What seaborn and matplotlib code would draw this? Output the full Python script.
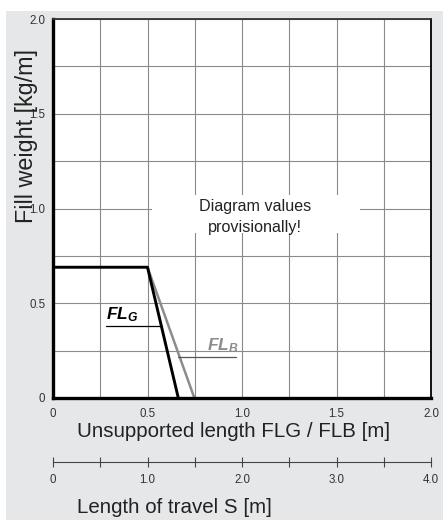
import pandas as pd
import numpy as np
import matplotlib
matplotlib.use("Agg")
import matplotlib.pyplot as plt
import seaborn as sns
from matplotlib.patches import Rectangle

# curve data
flg_x = [0.0, 0.5, 0.663]
flg_y = [0.69, 0.69, 0.0]
flb_x = [0.5, 0.748]
flb_y = [0.69, 0.0]

x_ticks = [0, 0.5, 1.0, 1.5, 2.0]
x_tick_labels = ["0", "0.5", "1.0", "1.5", "2.0"]
y_ticks = [0, 0.5, 1.0, 1.5, 2.0]
y_tick_labels = ["0", "0.5", "1.0", "1.5", "2.0"]
s_ticks = [0, 1.0, 2.0, 3.0, 4.0]
s_tick_labels = ["0", "1.0", "2.0", "3.0", "4.0"]

sns.set_style("white")
plt.rcParams['font.family'] = ['Liberation Sans', 'DejaVu Sans']
plt.rcParams['mathtext.fontset'] = 'custom'
plt.rcParams['mathtext.it'] = 'Liberation Sans:italic:bold'
plt.rcParams['mathtext.rm'] = 'Liberation Sans:italic:bold'

fig = plt.figure(figsize=(4.43, 5.2), dpi=100, facecolor='white')
fig.patches.append(Rectangle((6 / 443, 0), 1, (520 - 11) / 520, transform=fig.transFigure,
                             facecolor='#e6e7e8', edgecolor='none', zorder=-10))
ax = fig.add_axes([53 / 443, 1 - 398 / 520, 378 / 443, 379 / 520])
ax.set_facecolor('white')

df_g = pd.DataFrame({'x': flg_x, 'y': flg_y})
df_b = pd.DataFrame({'x': flb_x, 'y': flb_y})
sns.lineplot(data=df_b, x='x', y='y', sort=False, estimator=None, color='#8c8c8c', lw=1.8, ax=ax, zorder=3)
sns.lineplot(data=df_g, x='x', y='y', sort=False, estimator=None, color='black', lw=2.1, ax=ax, zorder=4)

ax.set_xlim(0, 2)
ax.set_ylim(0, 2)

ax.set_xticks(x_ticks)
ax.set_xticklabels(x_tick_labels)
ax.set_xticks(np.arange(0, 2.01, 0.25), minor=True)
ax.set_yticks(y_ticks)
ax.set_yticklabels(y_tick_labels)
ax.set_yticks(np.arange(0, 2.01, 0.25), minor=True)
ax.grid(True, which='both', color='#8a8a8a', lw=0.8)
ax.set_axisbelow(True)
ax.tick_params(axis='x', which='both', direction='out', length=3, width=0.8, color='#555555',
               labelsize=8.3, labelcolor='#333333', pad=4)
ax.tick_params(axis='y', which='major', direction='out', length=4.5, width=0.8, color='#888888',
               labelsize=8.3, labelcolor='#333333', pad=1)
ax.tick_params(axis='y', which='minor', length=0)

for side in ['left', 'bottom']:
    ax.spines[side].set_color('black')
    ax.spines[side].set_linewidth(2.4)
ax.spines['right'].set_color('black')
ax.spines['right'].set_linewidth(1.3)
ax.spines['top'].set_color('#333333')
ax.spines['top'].set_linewidth(1.3)
for sp in ax.spines.values():
    sp.set_zorder(5)

ax.set_xlabel("Unsupported length FLG / FLB [m]", fontsize=14.8, color='#222222', ha='left')
ax.xaxis.set_label_coords(0.0635, -0.064)
ax.set_ylabel("Fill weight [kg/m]", fontsize=16.8, color='#222222')
ax.yaxis.set_label_coords(-0.040, 0.69)

# white mask behind the note
ax.add_patch(Rectangle((0.525, 0.871), 1.098, 0.2, facecolor='white', edgecolor='none', zorder=1.5))
ax.text(1.07, 0.955, "Diagram values\nprovisionally!", ha='center', va='center', fontsize=11.6,
        color='#222222', linespacing=1.45, zorder=2)

# curve labels with leader lines
ax.text(0.282, 0.392, r'$FL_G$', fontsize=12.5, color='black', ha='left', va='bottom', zorder=6)
ax.plot([0.281, 0.575], [0.38, 0.38], color='black', lw=0.9, zorder=6)
ax.text(0.815, 0.226, r'$FL_B$', fontsize=12.5, color='#8c8c8c', ha='left', va='bottom', zorder=6)
ax.plot([0.663, 0.966], [0.216, 0.216], color='#555555', lw=0.9, zorder=6)

# travel length axis
secax = ax.secondary_xaxis(-0.169, functions=(lambda x: 2 * x, lambda x: x / 2))
secax.set_xticks(s_ticks)
secax.set_xticklabels(s_tick_labels)
secax.set_xticks(np.arange(0, 4.01, 0.5), minor=True)
secax.tick_params(axis='x', which='both', direction='inout', length=7, width=0.8, color='#444444',
                  labelsize=8.3, labelcolor='#333333', pad=5)
secax.spines['bottom'].set_color('#444444')
secax.spines['bottom'].set_linewidth(0.8)
secax.set_xlabel("Length of travel S [m]", fontsize=14.8, color='#222222', ha='left', labelpad=9)
secax.xaxis.label.set_x(0.0635)

fig.savefig("out.png", dpi=100, facecolor=fig.get_facecolor())
